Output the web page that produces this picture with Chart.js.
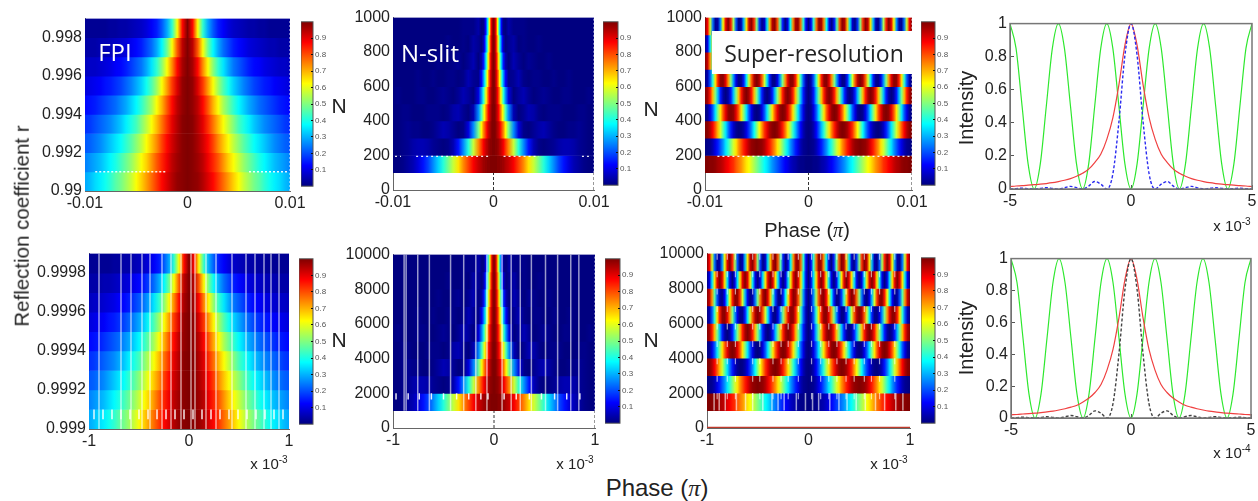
<!DOCTYPE html>
<html>
<head>
<meta charset="utf-8">
<title>Phase resolution</title>
<script src="https://cdn.jsdelivr.net/npm/chart.js@4"></script>
<style>
html, body { margin: 0; background: #fff; overflow: hidden; width: 1258px; height: 501px; }
canvas { position: absolute; }
.txt { position: absolute; font-family: "Liberation Sans", Arial, sans-serif; color: #222; white-space: nowrap; line-height: 1; transform: translate(-50%, -50%); z-index: 5; }
.rot { transform: translate(-50%, -50%) rotate(-90deg); }
.soft { font-family: "Open Sans", sans-serif; color: #fff; }
.pi { font-family: "Liberation Serif", serif; font-style: italic; }
sup { font-size: 10px; line-height: 0; }
#superBox { position: absolute; left: 712px; top: 31px; width: 200px; height: 43px; background: #fff; z-index: 4; }
</style>
</head>
<body>
<div id="superBox"></div>
<div class="txt soft" style="left:115px;top:52px;font-size:24px">FPI</div>
<div class="txt soft" style="left:430px;top:53px;font-size:24px">N-slit</div>
<div class="txt soft" style="left:814px;top:53px;font-size:23px;color:#222">Super-resolution</div>
<div class="txt rot" style="left:22px;top:226px;font-size:20.5px">Reflection coefficient r</div>
<div class="txt" style="left:339px;top:105px;font-size:21px">N</div>
<div class="txt" style="left:651px;top:108px;font-size:21px">N</div>
<div class="txt" style="left:339px;top:339px;font-size:21px">N</div>
<div class="txt" style="left:651px;top:339px;font-size:21px">N</div>
<div class="txt rot" style="left:966px;top:108px;font-size:20px">Intensity</div>
<div class="txt rot" style="left:966px;top:338px;font-size:20px">Intensity</div>
<div class="txt" style="left:807px;top:230px;font-size:20px">Phase (<span class="pi">&pi;</span>)</div>
<div class="txt" style="left:657px;top:488px;font-size:24px">Phase (<span class="pi">&pi;</span>)</div>
<div class="txt" style="left:269px;top:463px;font-size:15px">x 10<sup>-3</sup></div>
<div class="txt" style="left:575px;top:463px;font-size:15px">x 10<sup>-3</sup></div>
<div class="txt" style="left:889px;top:463px;font-size:15px">x 10<sup>-3</sup></div>
<div class="txt" style="left:1232px;top:225px;font-size:15px">x 10<sup>-3</sup></div>
<div class="txt" style="left:1232px;top:452px;font-size:15px">x 10<sup>-4</sup></div>
<script>
// half profiles, phase = 0 out to the edge, the maps are symmetric about 0
const fpiPhase = [0,0.5,1,1.5,2,2.5,3,3.5,4,4.5,5,5.5,6,6.5,7,7.5,8,8.5,9,9.5,10];
const fpiRows = [
    [1,.99,.98,.95,.91,.87,.82,.77,.72,.67,.62,.57,.53,.49,.46,.42,.39,.36,.34,.31,.29],
    [1,.99,.97,.94,.89,.84,.79,.73,.67,.62,.57,.52,.48,.44,.40,.37,.34,.31,.29,.27,.25],
    [1,.99,.96,.92,.87,.81,.74,.68,.62,.56,.51,.46,.42,.38,.35,.32,.29,.26,.24,.22,.21],
    [1,.99,.95,.90,.83,.76,.69,.62,.56,.50,.44,.40,.36,.32,.29,.26,.24,.22,.20,.18,.17],
    [1,.98,.94,.87,.79,.70,.62,.54,.48,.42,.37,.33,.29,.26,.23,.21,.19,.17,.15,.14,.13],
    [1,.98,.91,.82,.72,.62,.53,.45,.39,.33,.29,.25,.22,.19,.17,.15,.14,.12,.11,.10,.09],
    [1,.96,.87,.74,.62,.51,.42,.35,.29,.24,.21,.18,.15,.13,.12,.10,.09,.08,.07,.07,.06],
    [1,.94,.79,.62,.48,.37,.29,.23,.19,.15,.13,.11,.09,.08,.07,.06,.05,.05,.04,.04,.04],
    [1,.87,.62,.42,.29,.21,.15,.12,.09,.07,.06,.05,.04,.04,.03,.03,.02,.02,.02,.02,.02]
];

const slitPhase = [0,.1,.2,.3,.4,.5,.6,.7,.8,.9,1,1.2,1.5,2,2.5,3,3.5,4,4.5,5,5.5,6,6.5,7,7.5,8,8.5,9,9.5,10];
const slitRows = [
    [1,1,1,1,.99,.99,.99,.98,.98,.97,.97,.95,.93,.88,.81,.74,.65,.57,.49,.41,.33,.26,.19,.14,.09,.05,.03,.01,0,0],
    [1,1,.99,.99,.98,.97,.95,.94,.92,.90,.88,.82,.74,.57,.41,.26,.14,.05,.01,0,.01,.02,.04,.05,.05,.04,.02,.01,0,0],
    [1,1,.99,.97,.95,.93,.90,.86,.82,.78,.74,.63,.49,.26,.09,.01,0,.02,.04,.05,.03,.01,0,0,.01,.01,.02,.01,0,0],
    [1,1,.98,.95,.92,.88,.82,.76,.70,.63,.57,.44,.26,.05,0,.02,.05,.04,.01,0,.01,.01,.01,0,0,0,.01,.01,0,0],
    [1,.99,.97,.93,.88,.81,.74,.65,.57,.49,.41,.26,.09,0,.03,.05,.02,0,.01,.02,.01,0,0,.01,.01,0,0,0,.01,0],
    [1,.99,.95,.90,.82,.74,.63,.54,.44,.34,.26,.12,.01,.02,.05,.01,0,.01,.01,0,0,.01,0,0,.01,0,0,0,0,0],
    [1,.98,.94,.86,.76,.65,.54,.42,.31,.22,.14,.04,0,.05,.02,0,.02,.01,0,0,.01,0,0,0,0,0,0,0,0,0],
    [1,.98,.92,.82,.70,.57,.44,.31,.21,.12,.05,0,.02,.04,0,.01,0,0,.01,0,0,0,0,0,0,0,0,0,0,0],
    [1,.97,.90,.78,.63,.49,.34,.22,.12,.05,.01,0,.04,.01,.01,.01,0,0,0,0,0,0,0,0,0,0,0,0,0,0]
];

const superPhase = [0,.25,.5,.75,1,1.25,1.5,1.75,2,2.25,2.5,2.75,3,3.25,3.5,3.75,4,4.25,4.5,4.75,5,5.25,5.5,5.75,6,6.25,6.5,6.75,7,7.25,7.5,7.75,8,8.25,8.5,8.75,9,9.25,9.5,9.75,10];
const superRows = [
    [0,0,.01,.01,.02,.04,.05,.07,.10,.12,.15,.18,.21,.24,.27,.31,.35,.38,.42,.46,.50,.54,.58,.62,.65,.69,.73,.76,.79,.83,.85,.88,.90,.93,.95,.96,.98,.99,.99,1,1],
    [0,.01,.02,.05,.10,.15,.21,.27,.35,.42,.50,.58,.65,.73,.79,.85,.90,.95,.98,.99,1,.99,.98,.95,.90,.85,.79,.73,.65,.58,.50,.42,.35,.27,.21,.15,.10,.05,.02,.01,0],
    [0,.01,.05,.12,.21,.31,.42,.54,.65,.76,.85,.93,.98,1,.99,.96,.90,.83,.73,.62,.50,.38,.27,.18,.10,.04,.01,0,.02,.07,.15,.24,.35,.46,.58,.69,.79,.88,.95,.99,1],
    [0,.02,.10,.21,.35,.50,.65,.79,.90,.98,1,.98,.90,.79,.65,.50,.35,.21,.10,.02,0,.02,.10,.21,.35,.50,.65,.79,.90,.98,1,.98,.90,.79,.65,.50,.35,.21,.10,.02,0],
    [0,.04,.15,.31,.50,.69,.85,.96,1,.96,.85,.69,.50,.31,.15,.04,0,.04,.15,.31,.50,.69,.85,.96,1,.96,.85,.69,.50,.31,.15,.04,0,.04,.15,.31,.50,.69,.85,.96,1],
    [0,.05,.21,.42,.65,.85,.98,.99,.90,.73,.50,.27,.10,.01,.02,.15,.35,.58,.79,.95,1,.95,.79,.58,.35,.15,.02,.01,.10,.27,.50,.73,.90,.99,.98,.85,.65,.42,.21,.05,0],
    [0,.07,.27,.54,.79,.96,.99,.88,.65,.38,.15,.01,.02,.18,.42,.69,.90,1,.95,.76,.50,.24,.05,0,.10,.31,.58,.83,.98,.99,.85,.62,.35,.12,.01,.04,.21,.46,.73,.93,1],
    [0,.10,.35,.65,.90,1,.90,.65,.35,.10,0,.10,.35,.65,.90,1,.90,.65,.35,.10,0,.10,.35,.65,.90,1,.90,.65,.35,.10,0,.10,.35,.65,.90,1,.90,.65,.35,.10,0],
    [0,.12,.42,.76,.98,.96,.73,.38,.10,0,.15,.46,.79,.99,.95,.69,.35,.07,.01,.18,.50,.83,.99,.93,.65,.31,.05,.01,.21,.54,.85,1,.90,.62,.27,.04,.02,.24,.58,.88,1]
];

const rowsR1 = [.9905,.9915,.9925,.9935,.9945,.9955,.9965,.9975,.9985];
const rowsR2 = [.99905,.99915,.99925,.99935,.99945,.99955,.99965,.99975,.99985];
const rowsN1 = [150,250,350,450,550,650,750,850,950];
const rowsN2 = [1500,2500,3500,4500,5500,6500,7500,8500,9500];

const ticksR1 = [.99,.992,.994,.996,.998];
const ticksR2 = [.999,.9992,.9994,.9996,.9998];
const ticksN1 = [0,200,400,600,800,1000];
const ticksN2 = [0,2000,4000,6000,8000,10000];
const ticksPhase1 = [-.01,0,.01];
const ticksPhase2 = [-1,0,1];
const ticksLineX = [-5,0,5];
const ticksIntensity = [0,.2,.4,.6,.8,1];
const ticksColorbar = [.1,.2,.3,.4,.5,.6,.7,.8,.9];

// line panels, phase -5..5
const linePhase = [-5,-4.75,-4.5,-4.25,-4,-3.75,-3.5,-3.25,-3,-2.75,-2.5,-2.25,-2,-1.75,-1.5,-1.25,-1,-.75,-.5,-.25,0,.25,.5,.75,1,1.25,1.5,1.75,2,2.25,2.5,2.75,3,3.25,3.5,3.75,4,4.25,4.5,4.75,5];
const superLine = [1,.85,.5,.15,0,.15,.5,.85,1,.85,.5,.15,0,.15,.5,.85,1,.85,.5,.15,0,.15,.5,.85,1,.85,.5,.15,0,.15,.5,.85,1,.85,.5,.15,0,.15,.5,.85,1];
const fpiLineTop = [.015,.018,.02,.023,.026,.029,.033,.038,.045,.053,.063,.077,.095,.12,.16,.21,.30,.43,.63,.87,1,.87,.63,.43,.30,.21,.16,.12,.095,.077,.063,.053,.045,.038,.033,.029,.026,.023,.02,.018,.015];
const fpiLineBottom = [.02,.022,.025,.028,.03,.034,.038,.043,.05,.058,.068,.08,.10,.125,.16,.21,.30,.43,.63,.87,1,.87,.63,.43,.30,.21,.16,.125,.10,.08,.068,.058,.05,.043,.038,.034,.03,.028,.025,.022,.02];
const slitLine = [0,.002,.005,.002,0,.004,.008,.004,0,.007,.016,.008,0,.017,.045,.03,0,.09,.405,.81,1,.81,.405,.09,0,.03,.045,.017,0,.008,.016,.007,0,.004,.008,.004,0,.002,.005,.002,0];

// white scan artefacts in the maps
const fpi1Dots = [[-.009,-.002],[.006,.0098]];
const slit1Dots = [[-.0098,-.0092],[-.0077,-.0005],[.001,.0045],[.0088,.0098]];
const super1Dots = [[-.0088,-.0018],[.0028,.0098]];
const fpi2Lines = [-.9,-.68,-.58,-.47,-.39,-.27,-.18,-.08,.02,.06,.17,.27,.43,.57,.66,.75,.82,.9];
const fpi2Marks = [-.95,-.86,-.77,-.68,-.59,-.5,-.41,-.32,-.23,-.14,-.05,.04,.13,.22,.31,.4,.49,.58,.67,.76,.85,.94];
const slit2Lines = [-.89,-.87,-.755,-.64,-.43,-.3,-.18,-.07,.08,.17,.26,.37,.51,.63,.76,.84];
const slit2Marks = [-.97,-.85,-.74,-.62,-.5,-.37,-.25,-.13,-.06,.1,.22,.35,.47,.6,.72,.85];
const super2Lines = [-.93,-.88,-.82,-.71,-.62,-.55,-.45,-.36,-.3,-.24,-.12,-.03,.04,.1,.21,.3,.38,.47,.56,.66,.75,.86,.93];
const super2Marks = [-.9,-.8,-.72,-.55,-.48,-.35,-.27,-.2,-.1,.03,.12,.2,.28,.37,.45,.55,.62,.7,.85];
const super2Levels = [2000,3000,4000,5000,6000,7000,8000,9000,10000];

const tickFont = {family: '"Liberation Sans", Arial, sans-serif', size: 16};

function jet(v) {
    const c = x => Math.round(255 * Math.min(1, Math.max(0, x)));
    return `rgb(${c(1.5 - Math.abs(4 * v - 3))},${c(1.5 - Math.abs(4 * v - 2))},${c(1.5 - Math.abs(4 * v - 1))})`;
}

function addCanvas(box, left, top, right, bottom) {
    const cv = document.createElement('canvas');
    const w = box.r - box.l + left + right;
    const h = box.b - box.t + top + bottom;
    cv.width = w;
    cv.height = h;
    cv.style.left = (box.l - left) + 'px';
    cv.style.top = (box.t - top) + 'px';
    cv.style.width = w + 'px';
    cv.style.height = h + 'px';
    document.body.appendChild(cv);
    return cv;
}

function frame(color, width) {
    return {
        id: 'frame',
        afterDatasetsDraw(chart) {
            const a = chart.chartArea;
            chart.ctx.save();
            chart.ctx.strokeStyle = color;
            chart.ctx.lineWidth = width;
            chart.ctx.strokeRect(a.left, a.top, a.right - a.left, a.bottom - a.top);
            chart.ctx.restore();
        }
    };
}

function fixedTicks(list) {
    return scale => { scale.ticks = list.map(v => ({value: v})); };
}

function axis(min, max, ticks, inward, fitKey, fitSize) {
    return {
        type: 'linear', min: min, max: max, offset: false,
        afterBuildTicks: fixedTicks(ticks),
        afterFit: s => { s[fitKey] = fitSize; },
        border: {display: true, color: '#666', width: 1},
        grid: {offset: false, drawOnChartArea: false, drawTicks: inward, tickLength: -4, color: '#555'},
        ticks: {
            font: tickFont, color: '#222', padding: inward ? 7 : 3, autoSkip: false, maxRotation: 0,
            callback: v => String(v)
        }
    };
}

function vLines(phases, y0, y1) {
    return phases.flatMap(p => [{x: p, y: y0}, {x: p, y: y1}, {x: NaN, y: NaN}]);
}

function hLines(ranges, y) {
    return ranges.flatMap(r => [{x: r[0], y: y}, {x: r[1], y: y}, {x: NaN, y: NaN}]);
}

function overlay(data, color, width, dash) {
    return {
        type: 'scatter', showLine: true, pointRadius: 0, data: data, order: 1,
        borderColor: color, borderWidth: width, borderDash: dash || [], spanGaps: false
    };
}

function heatmap(box, cfg) {
    const xMax = cfg.xTicks[cfg.xTicks.length - 1];
    const rowFill = ctx => {
        const x = ctx.chart.scales.x;
        const row = cfg.rows[ctx.dataIndex];
        if (!row || !x || !(x.right > x.left)) return '#000';
        const grad = ctx.chart.ctx.createLinearGradient(x.left, 0, x.right, 0);
        const w = x.right - x.left;
        const stop = (p, v) => grad.addColorStop(Math.min(1, Math.max(0, (x.getPixelForValue(p * cfg.unit) - x.left) / w)), jet(v));
        for (let i = row.length - 1; i > 0; i--) stop(-cfg.phase[i], row[i]);
        for (let i = 0; i < row.length; i++) stop(cfg.phase[i], row[i]);
        return grad;
    };
    const datasets = [{
        type: 'bar', order: 2, grouped: false, barPercentage: 1, categoryPercentage: 1,
        data: cfg.centers.map(c => ({x: [-xMax, xMax], y: c})),
        backgroundColor: rowFill, borderWidth: 0
    }].concat(cfg.overlays || []);
    new Chart(addCanvas(box, 62, 12, 22, 30), {
        type: 'bar',
        data: {datasets: datasets},
        options: {
            responsive: false, animation: false, events: [],
            datasets: {bar: {indexAxis: 'y'}},
            layout: {padding: {top: 12, right: 22}},
            plugins: {legend: {display: false}, tooltip: {enabled: false}},
            scales: {
                x: axis(-xMax, xMax, cfg.xTicks, false, 'height', 30),
                y: axis(cfg.yMin, cfg.yMax, cfg.yTicks, false, 'width', 62)
            }
        }
    });
}

function colorbar(box) {
    const levels = [];
    for (let i = 0; i <= 32; i++) levels.push(i / 32);
    new Chart(addCanvas(box, 0, 4, 26, 4), {
        type: 'bar',
        data: {
            labels: [''],
            datasets: [{
                data: [[0, 1]], barPercentage: 1, categoryPercentage: 1, borderWidth: 0,
                backgroundColor: ctx => {
                    const y = ctx.chart.scales.y;
                    if (!y || !(y.bottom > y.top)) return '#000';
                    const grad = ctx.chart.ctx.createLinearGradient(0, y.bottom, 0, y.top);
                    levels.forEach(v => grad.addColorStop(v, jet(v)));
                    return grad;
                }
            }]
        },
        plugins: [frame('#555', 1)],
        options: {
            responsive: false, animation: false, events: [],
            layout: {padding: {top: 4, bottom: 4}},
            plugins: {legend: {display: false}, tooltip: {enabled: false}},
            scales: {
                x: {display: false},
                y: {
                    type: 'linear', position: 'right', min: 0, max: 1,
                    afterBuildTicks: fixedTicks(ticksColorbar),
                    afterFit: s => { s.width = 26; },
                    border: {display: false},
                    grid: {drawOnChartArea: false, drawTicks: true, tickLength: -2, color: '#111', z: 1},
                    ticks: {font: {family: tickFont.family, size: 8}, color: '#555', padding: 4, callback: v => String(v)}
                }
            }
        }
    });
}

function linePanel(box, fpiLine, slitColor, slitDash) {
    const pts = vals => linePhase.map((p, i) => ({x: p, y: vals[i]}));
    const ds = (vals, color, width, dash) => ({
        showLine: true, pointRadius: 0, data: pts(vals), borderColor: color, borderWidth: width,
        borderDash: dash || [], cubicInterpolationMode: 'monotone'
    });
    new Chart(addCanvas(box, 58, 12, 22, 30), {
        type: 'scatter',
        data: {datasets: [
            ds(slitLine, slitColor, 1.4, slitDash),
            ds(fpiLine, '#f04040', 1.2),
            ds(superLine, '#2ee82e', 1.2)
        ]},
        plugins: [frame('#777', 1.5)],
        options: {
            responsive: false, animation: false, events: [],
            layout: {padding: {top: 12, right: 22}},
            plugins: {legend: {display: false}, tooltip: {enabled: false}},
            scales: {
                x: axis(-5, 5, ticksLineX, true, 'height', 30),
                y: axis(0, 1, ticksIntensity, true, 'width', 58)
            }
        }
    });
}

const whiteSoft = 'rgba(255,255,255,0.6)';
const white = 'rgba(255,255,255,0.9)';

heatmap({l: 85, t: 18, r: 290, b: 191}, {
    rows: fpiRows, phase: fpiPhase, unit: 1e-3, centers: rowsR1,
    xTicks: ticksPhase1, yTicks: ticksR1, yMin: .99, yMax: .999,
    overlays: [overlay(hLines(fpi1Dots, .991), white, 1.5, [2, 2]), overlay(vLines([.01], .99, .999), white, 1, [2, 2])]
});
colorbar({l: 301, t: 17, r: 313, b: 191});

heatmap({l: 393, t: 17, r: 594, b: 190}, {
    rows: slitRows, phase: slitPhase, unit: 1e-3, centers: rowsN1,
    xTicks: ticksPhase1, yTicks: ticksN1, yMin: 0, yMax: 1000,
    overlays: [
        overlay(hLines(slit1Dots, 195), white, 1.2, [2, 3]),
        overlay(vLines([.01], 100, 1000), white, 1, [2, 2]),
        overlay(vLines([0, .01], 0, 100), '#333', 1, [3, 2])
    ]
});
colorbar({l: 603, t: 17, r: 618, b: 190});

heatmap({l: 705, t: 17, r: 912, b: 190}, {
    rows: superRows, phase: superPhase, unit: 1e-3, centers: rowsN1,
    xTicks: ticksPhase1, yTicks: ticksN1, yMin: 0, yMax: 1000,
    overlays: [
        overlay(hLines(super1Dots, 195), white, 1.2, [2, 3]),
        overlay(vLines([.01], 100, 1000), white, 1, [2, 2]),
        overlay(vLines([0, .01], 0, 100), '#333', 1, [3, 2])
    ]
});
colorbar({l: 921, t: 17, r: 935, b: 190});

linePanel({l: 1010, t: 19, r: 1252, b: 189}, fpiLineTop, '#2a2af0', [3, 2]);

heatmap({l: 89, t: 253, r: 289, b: 429}, {
    rows: fpiRows, phase: fpiPhase, unit: .1, centers: rowsR2,
    xTicks: ticksPhase2, yTicks: ticksR2, yMin: .999, yMax: .9999,
    overlays: [
        overlay(vLines(fpi2Lines, .999, .9999), whiteSoft, 1.5),
        overlay(vLines(fpi2Marks, .99905, .9991), white, 1.5)
    ]
});
colorbar({l: 299, t: 254, r: 313, b: 429});

heatmap({l: 393, t: 254, r: 595, b: 428}, {
    rows: slitRows, phase: slitPhase, unit: .1, centers: rowsN2,
    xTicks: ticksPhase2, yTicks: ticksN2, yMin: 0, yMax: 10000,
    overlays: [
        overlay(vLines(slit2Lines, 1000, 10000), whiteSoft, 1.5),
        overlay(vLines(slit2Marks, 1650, 2000), white, 1.5),
        overlay(vLines([1], 1000, 10000), white, 1, [2, 2]),
        overlay(vLines([0, 1], 0, 1000), '#333', 1, [3, 2])
    ]
});
colorbar({l: 605, t: 254, r: 620, b: 428});

heatmap({l: 707, t: 253, r: 910, b: 428}, {
    rows: superRows, phase: superPhase, unit: .1, centers: rowsN2,
    xTicks: ticksPhase2, yTicks: ticksN2, yMin: 0, yMax: 10000,
    overlays: [
        overlay(vLines(super2Lines, 1000, 2000), whiteSoft, 1.5),
        overlay(super2Levels.flatMap(n => vLines(super2Marks, n - 350, n)), whiteSoft, 1.2),
        overlay(hLines([[-1, 1]], 30), '#c0392b', 1.5)
    ]
});
colorbar({l: 921, t: 253, r: 935, b: 428});

linePanel({l: 1011, t: 254, r: 1251, b: 418}, fpiLineBottom, '#444', [3, 2]);
</script>
</body>
</html>
